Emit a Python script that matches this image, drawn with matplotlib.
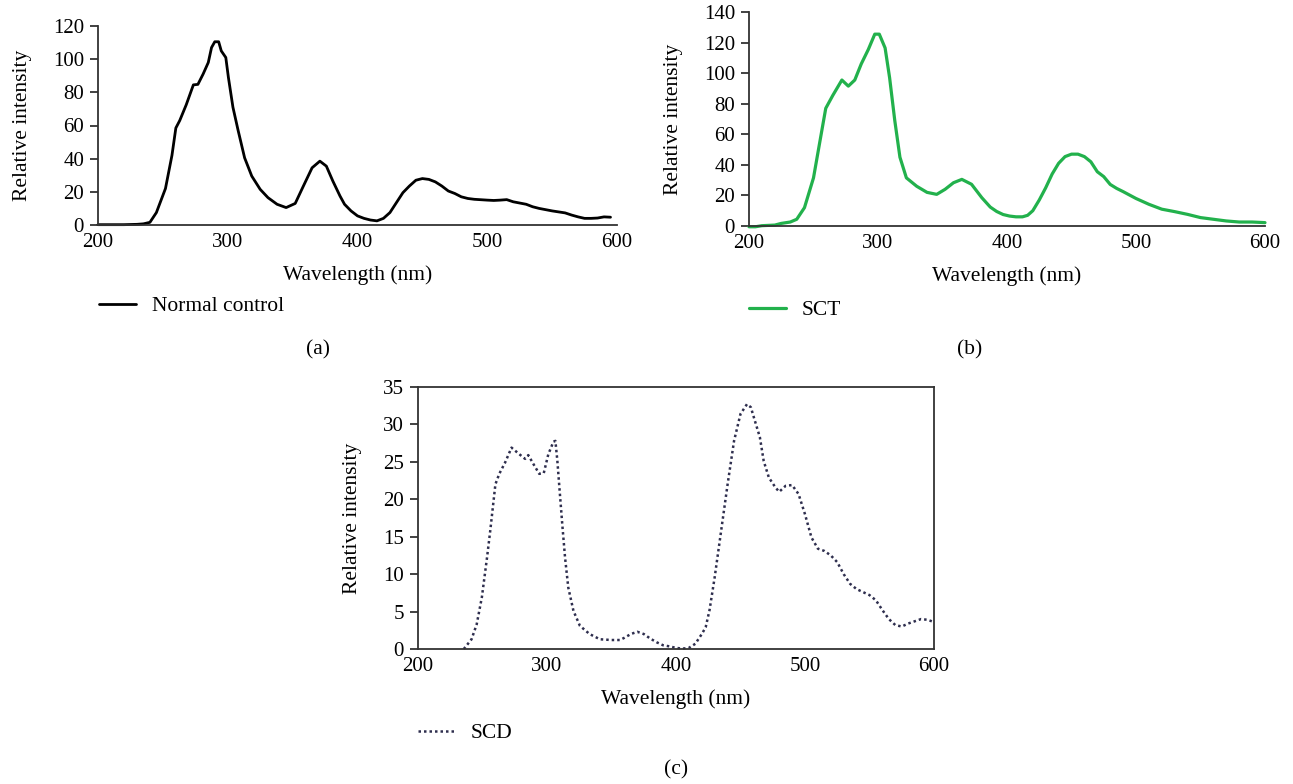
import matplotlib
matplotlib.use("Agg")
import matplotlib.pyplot as plt

plt.rcParams.update({
    "font.family": ["Liberation Serif", "DejaVu Serif"],
    "font.size": 15.5,
    "axes.edgecolor": "#333333",
    "axes.linewidth": 1.3,
    "lines.solid_joinstyle": "round",
    "lines.solid_capstyle": "round",
})

# Normal control spectrum
nc_wl = [200, 210, 220, 230, 235, 240, 245, 252, 257, 260, 263, 268, 273.5, 277, 281, 285,
         287.5, 290, 293, 295, 298.5, 300.5, 304, 308, 313, 318.5, 325, 331, 338, 345,
         352, 358, 365, 371, 376, 381, 386.5, 390, 395, 400, 405, 410, 415, 420,
         425, 430, 435, 440, 445, 450, 455, 460, 465, 470, 475, 480, 485, 490, 500, 505,
         510, 515, 520, 530, 535, 540, 550, 560, 565, 570, 575, 580, 585, 590, 595]
nc_int = [0.2, 0.2, 0.2, 0.4, 0.7, 1.6, 7.5, 22, 42, 58.5, 63, 72.5, 84.5, 84.8, 91, 98,
          107, 110.5, 110.5, 105, 101, 89, 71, 57, 40.5, 29.5, 21.5, 16.5, 12.5, 10.5,
          13, 23, 34.5, 38.5, 35.5, 26.5, 17.5, 12.5, 8.5, 5.5, 4, 3, 2.5, 4,
          7.5, 13.5, 19.5, 23.5, 27, 28, 27.5, 26, 23.5, 20.5, 19, 17, 16, 15.5, 15, 14.8,
          15, 15.3, 14, 12.5, 11, 10, 8.5, 7.3, 6, 4.9, 4, 4, 4.2, 4.9, 4.7]

# SCT spectrum
sct_wl = [200, 205, 210, 220, 225, 232, 237, 243, 250, 255, 259.5, 265, 272, 277, 282, 287,
          292.5, 297.5, 301, 305.5, 309, 313, 317, 322, 330, 338, 345.5, 352, 358.5, 365,
          372.5, 380.5, 387, 392, 397, 402, 407, 412, 416, 420, 425, 430, 435, 440, 445,
          450, 455, 460, 465, 470, 475, 480, 485, 490, 500, 510, 520, 530, 540, 550, 560,
          570, 580, 590, 600]
sct_int = [-0.5, -0.5, 0.2, 0.6, 1.7, 2.6, 4.4, 12, 31.5, 55.5, 77, 85.5, 95.5, 91.5, 95.5, 106,
           115.5, 125.5, 125.5, 116.5, 97, 69, 45, 31.5, 26, 22, 20.7, 24, 28.3, 30.5,
           27.3, 18.5, 12.4, 9.5, 7.5, 6.5, 6, 6, 7, 10, 17, 25, 34, 41, 45.4,
           47, 47, 45.4, 42, 35.5, 32.3, 27.2, 24.6, 22.5, 18, 14.2, 11, 9.4, 7.6, 5.5, 4.4,
           3.3, 2.6, 2.6, 2.2]

# SCD spectrum
scd_wl = [235.5, 241.5, 245.5, 249.5, 253.5, 256, 258, 260, 263, 267.5, 272.5, 278, 283, 285.5,
          289.5, 294, 297.5, 301, 305, 306.5, 308, 310, 312, 314, 316.5, 320.5, 325.5, 333,
          341, 350, 356.5, 360, 365, 370, 375, 380, 385, 390, 395, 400, 405, 410, 415, 420,
          423, 426, 430, 435, 440, 445, 450, 455, 458, 462, 465, 468, 472, 477, 480, 485, 490,
          495, 500, 505, 510, 515, 520, 525, 530, 535, 540, 545, 550, 555, 560, 565, 570, 575,
          580, 585, 590, 595, 600]
scd_int = [0, 1.3, 3.3, 6.9, 12.2, 15.8, 18.9, 22, 23.4, 24.9, 26.9, 26.1, 25.4, 25.9,
           24.7, 23.4, 23.5, 26, 27.7, 27.8, 25.2, 20.7, 16.3, 12.2, 8.2, 5.1, 3.1, 2.0,
           1.3, 1.2, 1.2, 1.5, 2.0, 2.3, 2.0, 1.4, 0.9, 0.5, 0.35, 0.15, 0.05, 0.15, 0.7, 2.0,
           2.9, 5.2, 9.6, 15.8, 22, 27.8, 31.4, 32.7, 32.3, 30, 28.3, 25.1, 22.9, 21.6, 21, 21.8, 21.9,
           20.7, 18, 14.9, 13.4, 13.1, 12.5, 11.6, 10, 8.7, 8.0, 7.6, 7.2, 6.5, 5.2, 4.0, 3.2, 3.0,
           3.4, 3.7, 4.0, 3.9, 3.6]

W, H = 1293, 784
fig = plt.figure(figsize=(W / 100, H / 100), dpi=100)


def px_axes(left, top, right, bottom):
    return fig.add_axes([left / W, 1 - bottom / H, (right - left) / W, (bottom - top) / H])


def style(ax, ymax, ystep, full_box=False):
    ax.set_xlim(200, 600)
    ax.set_ylim(0, ymax)
    ax.set_xticks(range(200, 601, 100))
    ax.set_yticks(range(0, ymax + 1, ystep))
    ax.tick_params(axis="x", length=0, pad=6, labelsize=15)
    ax.tick_params(axis="y", length=6, width=1.3, color="#333333", pad=4, labelsize=15)
    ax.set_xlabel("Wavelength (nm)", fontsize=15.5, labelpad=9)
    ax.set_ylabel("Relative intensity", fontsize=15.5, labelpad=15)
    if not full_box:
        ax.spines["top"].set_visible(False)
        ax.spines["right"].set_visible(False)
    for s in ax.spines.values():
        s.set_clip_on(False)


def add_legend(ax, x, y):
    ax.legend(loc="center left", bbox_to_anchor=(x / W, 1 - y / H),
              bbox_transform=fig.transFigure, frameon=False, fontsize=15.5,
              handlelength=1.7, handletextpad=0.75, borderpad=0, borderaxespad=0)


# (a) Normal control
ax_a = px_axes(98, 26, 617, 225)
ax_a.plot(nc_wl, nc_int, color="black", lw=2, label="Normal control", clip_on=False)
style(ax_a, 120, 20)
add_legend(ax_a, 99, 306)
fig.text(318 / W, 1 - 350 / H, "(a)", ha="center", va="center", fontsize=15.5)

# (b) SCT
ax_b = px_axes(749, 12, 1265, 226)
ax_b.plot(sct_wl, sct_int, color="#22b14c", lw=2.3, label="SCT", clip_on=False)
style(ax_b, 140, 20)
add_legend(ax_b, 749, 310)
fig.text(970 / W, 1 - 350 / H, "(b)", ha="center", va="center", fontsize=15.5)

# (c) SCD
ax_c = px_axes(418, 387, 934, 649)
ax_c.plot(scd_wl, scd_int, color="#2e2e4e", lw=1.8, ls=(0, (1, 1.2)), label="SCD",
          clip_on=False)
style(ax_c, 35, 5, full_box=True)
add_legend(ax_c, 418, 733)
fig.text(676 / W, 1 - 770 / H, "(c)", ha="center", va="center", fontsize=15.5)

fig.savefig("out.png", dpi=100)
